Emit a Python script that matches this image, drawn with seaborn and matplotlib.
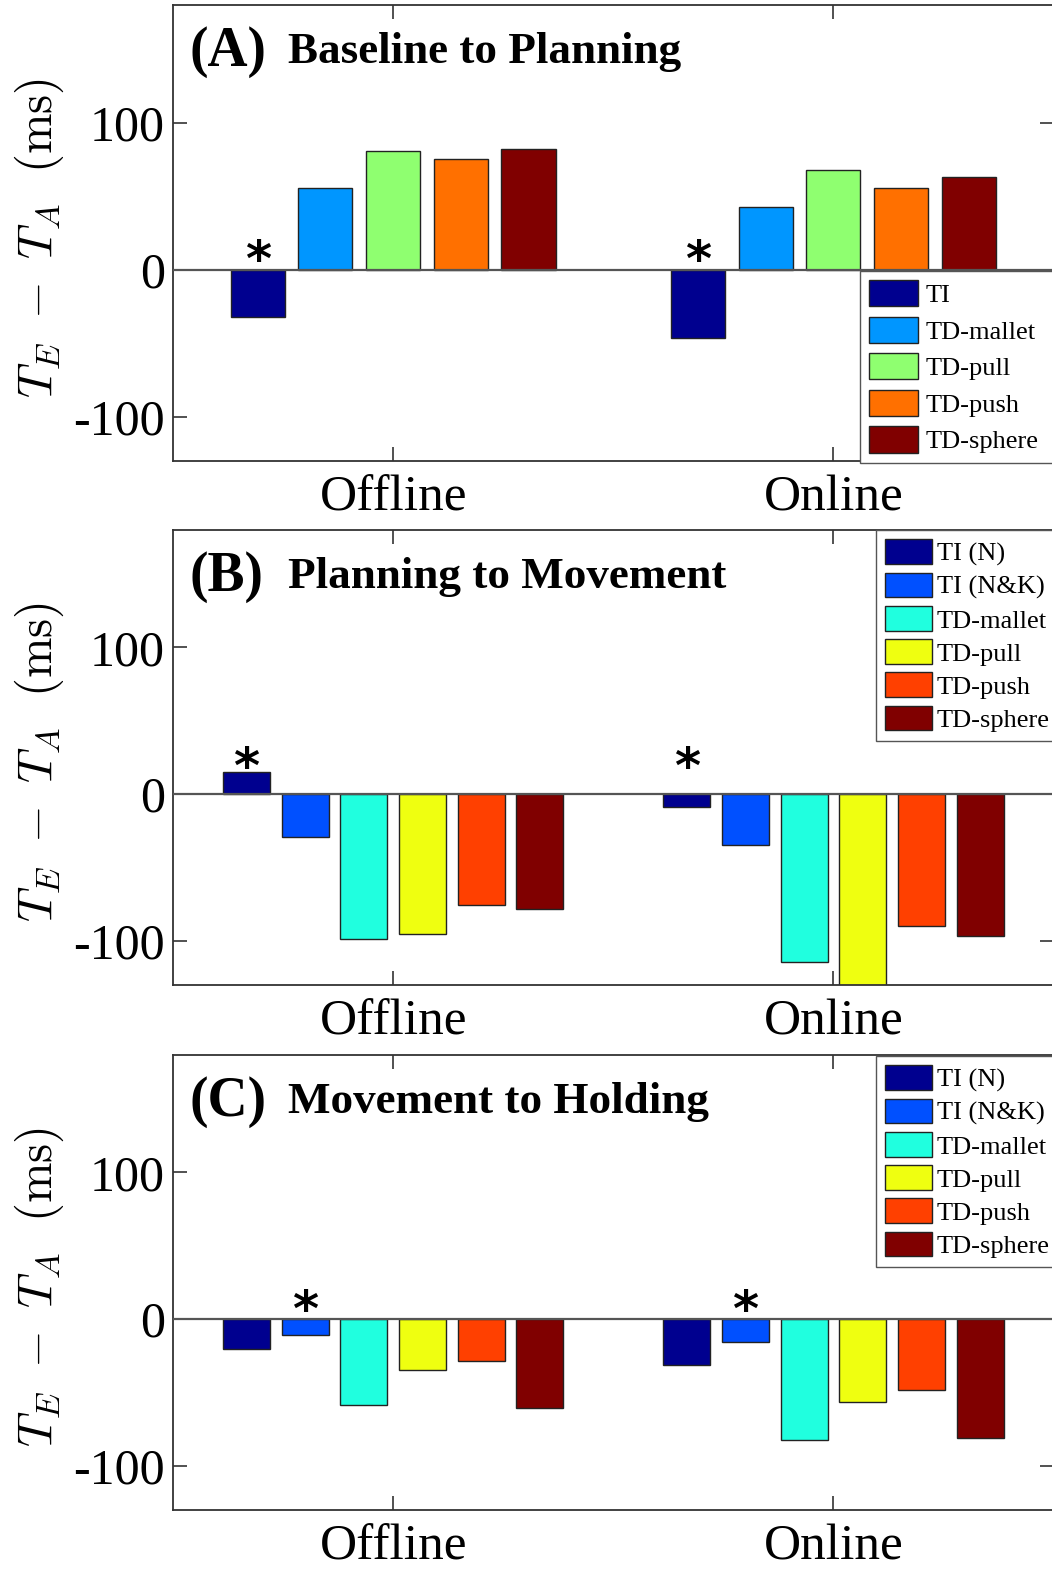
import numpy as np
import pandas as pd
import matplotlib
matplotlib.use('Agg')
import matplotlib.pyplot as plt
import seaborn as sns
from matplotlib.patches import Patch

# ---------------- data ----------------
conditions = ['Offline', 'Online']

groups_a = ['TI', 'TD-mallet', 'TD-pull', 'TD-push', 'TD-sphere']
offline_a = [-32.4, 55.6, 81.0, 75.0, 82.3]
online_a = [-46.5, 43.0, 67.5, 55.6, 63.3]
colors_a = ['#00008F', '#0096FF', '#8FFF70', '#FF7000', '#800000']

groups_bc = ['TI (N)', 'TI (N&K)', 'TD-mallet', 'TD-pull', 'TD-push', 'TD-sphere']
offline_b = [15.2, -29.0, -98.6, -95.5, -75.3, -78.2]
online_b = [-8.4, -34.5, -114.0, -140.0, -89.6, -96.3]
offline_c = [-20.4, -10.7, -58.3, -34.5, -28.8, -60.3]
online_c = [-31.1, -15.6, -82.3, -56.2, -48.5, -80.9]
colors_bc = ['#00008F', '#0050FF', '#20FFDF', '#EFFF10', '#FF4000', '#800000']

letters = ['(A)', '(B)', '(C)']
titles = ['Baseline to Planning', 'Planning to Movement', 'Movement to Holding']
star_groups = ['TI', 'TI (N)', 'TI (N&K)']
star_y = [5.5, 17.0, 5.0]
yticks = [-100, 0, 100]
ytick_labels = ['-100', '0', '100']

# ---------------- style ----------------
sns.set_style('ticks')
plt.rcParams['font.family'] = ['Liberation Serif', 'DejaVu Serif']
plt.rcParams['mathtext.fontset'] = 'cm'
for k in ['text.color', 'axes.labelcolor', 'xtick.labelcolor', 'ytick.labelcolor']:
    plt.rcParams[k] = 'black'

fig = plt.figure(figsize=(10.52, 15.70), dpi=100)
W, H = 1052.0, 1570.0
panel_px = [(5, 461), (530, 985), (1055, 1510)]
left_px, right_px = 173, 1053.5
axw = right_px - left_px

panels = [
    (groups_a, offline_a, online_a, colors_a, 5 / 6.5),
    (groups_bc, offline_b, online_b, colors_bc, 0.8),
    (groups_bc, offline_c, online_c, colors_bc, 0.8),
]
# legend boxes: (left, bottom, width, height) in axes fraction
legend_box = [((860 - 173) / axw, 0.0, 0.25, (461 - 271) / 456.0),
              ((876 - 173) / axw, (985 - 735) / 455.0, 0.25, (735 - 530) / 455.0),
              ((876 - 173) / axw, (1510 - 1258) / 455.0, 0.25, (1258 - 1056) / 455.0)]
legend_spacing = [0.36, 0.26, 0.26]
legend_hh = [1.15, 1.05, 1.05]
legend_hl = [1.85, 1.77, 1.77]
legend_tp = [0.3, 0.18, 0.18]

edge = '#333333'
for i, (groups, off, on, cols, gw) in enumerate(panels):
    top, bot = panel_px[i]
    ax = fig.add_axes([left_px / W, 1 - bot / H, axw / W, (bot - top) / H])
    df = pd.DataFrame({
        'condition': [c for c in conditions for _ in groups],
        'group': groups * 2,
        'value': list(off) + list(on),
    })
    sns.barplot(data=df, x='condition', y='value', hue='group', order=conditions,
                hue_order=groups, palette=cols, width=gw, gap=0.2, saturation=1,
                edgecolor='#222222', linewidth=1.0, errorbar=None, legend=False, ax=ax)
    ax.axhline(0, color='#555555', lw=1.6, zorder=3)
    ax.set_xlim(-0.5, 1.5)
    ax.set_ylim(-130, 180)
    ax.set_yticks(yticks)
    ax.set_yticklabels(ytick_labels)
    ax.tick_params(axis='both', direction='in', length=10, width=1.2, color=edge,
                   top=True, right=True, labelsize=36)
    ax.tick_params(axis='y', pad=6)
    ax.tick_params(axis='x', pad=10, labelsize=37)
    for s in ax.spines.values():
        s.set_color(edge)
        s.set_linewidth(1.3)
    ax.set_xlabel('')
    ax.set_ylabel(r'$T_E\ -\ T_A\ \ \mathrm{(ms)}$', fontsize=35)
    ax.yaxis.set_label_coords((66 - 173) / axw, 0.49)

    # title
    ax.text(0.0193, 0.897, letters[i], transform=ax.transAxes, fontsize=40,
            fontweight='bold', ha='left', va='center')
    ax.text(0.1307, 0.897, titles[i], transform=ax.transAxes, fontsize=32.5,
            fontweight='bold', ha='left', va='center')

    # significance stars above chosen group bars
    cont = ax.containers[groups.index(star_groups[i])]
    for bar in cont:
        xc = bar.get_x() + bar.get_width() / 2
        ax.text(xc, star_y[i], '*', fontsize=36, fontweight='bold', ha='center',
                va='center', family='DejaVu Sans')

    handles = [Patch(facecolor=c, edgecolor='#222222', lw=1.0) for c in cols]
    leg = ax.legend(handles, groups, loc='upper left', bbox_to_anchor=legend_box[i],
                    mode='expand',
                    prop={'family': 'Liberation Serif', 'size': 19}, frameon=True,
                    fancybox=False, edgecolor='#555555', framealpha=1,
                    handlelength=legend_hl[i], handleheight=legend_hh[i],
                    handletextpad=legend_tp[i],
                    labelspacing=legend_spacing[i], borderpad=0.35, borderaxespad=0)
    leg.get_frame().set_linewidth(1.0)

fig.savefig('out.png', dpi=100)
